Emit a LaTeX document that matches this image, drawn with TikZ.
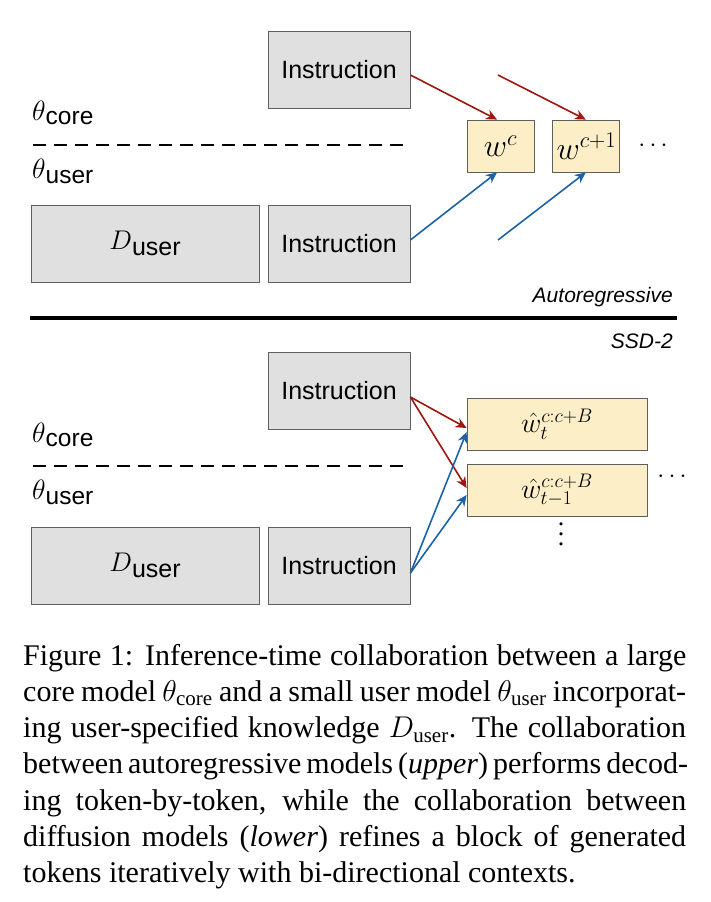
\RequirePackage{fix-cm}
\documentclass[tikz,border=0pt]{standalone}
\usepackage{fontspec}
\setmainfont{Liberation Serif}
\setsansfont{Liberation Sans}
\usetikzlibrary{positioning,arrows.meta}
\definecolor{boxgray}{RGB}{224,224,224}
\definecolor{edgegray}{RGB}{95,95,95}
\definecolor{tokyellow}{RGB}{252,239,200}
\definecolor{corered}{RGB}{158,22,14}
\definecolor{userblue}{RGB}{28,98,168}

\begin{document}
\begin{tikzpicture}[x=1pt,y=-1pt]
    \tikzstyle{block} = [rectangle, draw=edgegray, line width=0.8pt, fill=boxgray, inner sep=0pt, minimum height=77pt, font=\fontsize{25}{25}\selectfont\sffamily]
    \tikzstyle{token} = [rectangle, draw=edgegray, line width=0.8pt, fill=tokyellow, inner sep=0pt, minimum height=52pt]
    \tikzstyle{lbl} = [anchor=base west, inner sep=0pt, font=\fontsize{28}{28}\selectfont]
    \tikzstyle{tag} = [anchor=base east, inner sep=0pt, font=\fontsize{21}{21}\selectfont\sffamily\itshape]
    \tikzstyle{corearrow} = [line width=1.6pt, corered, ->, >={Stealth[length=11pt,width=10pt]}]
    \tikzstyle{userarrow} = [line width=1.6pt, userblue, ->, >={Stealth[length=11pt,width=10pt]}]
    \tikzstyle{split} = [line width=2pt, dash pattern=on 13pt off 8pt]
    \useasboundingbox (0,0) rectangle (710,902);

    % upper: autoregressive
    \node (inst1) [block, minimum width=142pt] at (339,69.5) {Instruction};
    \node (duser1) [block, minimum width=228pt] at (145,243.5) {{\fontsize{27}{27}\selectfont$D$}\raisebox{-6pt}{user}};
    \node (inst2) [block, minimum width=142pt] at (339,243.5) {Instruction};
    \node (core1) [lbl] at (32,120) {$\theta$\raisebox{-4pt}{\fontsize{24.5}{24.5}\selectfont\sffamily core}};
    \node (user1) [lbl] at (32,178) {$\theta$\raisebox{-5pt}{\fontsize{24.5}{24.5}\selectfont\sffamily user}};
    \draw [split] (33,145) -- (410,145);

    \node (wc) [token, minimum width=67pt, font=\fontsize{32}{32}\selectfont] at (500.5,146) {$w^c$};
    \node (wc1) [token, minimum width=67pt, font=\fontsize{32}{32}\selectfont, right=18pt of wc] {$w^{c+1}$};
    \node (more1) [font=\fontsize{25}{25}\selectfont] at (653,146) {$\cdots$};

    \coordinate (r2) at (498,75);
    \coordinate (b2) at (498,240);
    \draw [corearrow] (inst1.east |- r2) -- ([xshift=-3.5pt]wc.north);
    \draw [corearrow] (r2) -- ([xshift=-0.5pt]wc1.north);
    \draw [userarrow] (inst2.east |- b2) -- ([xshift=-3.5pt]wc.south);
    \draw [userarrow] (b2) -- ([xshift=-0.5pt]wc1.south);

    \node (ar) [tag] at (673,302) {Autoregressive};
    \draw [line width=4pt] (30,318) -- (677,318);
    \node (ssd) [tag] at (673,348) {SSD-2};

    % lower: diffusion
    \node (inst3) [block, minimum width=142pt] at (339,391) {Instruction};
    \node (duser2) [block, minimum width=228pt] at (145,565.5) {{\fontsize{27}{27}\selectfont$D$}\raisebox{-6pt}{user}};
    \node (inst4) [block, minimum width=142pt] at (339,565.5) {Instruction};
    \node (core2) [lbl] at (32,442) {$\theta$\raisebox{-4pt}{\fontsize{24.5}{24.5}\selectfont\sffamily core}};
    \node (user2) [lbl] at (32,499) {$\theta$\raisebox{-5pt}{\fontsize{24.5}{24.5}\selectfont\sffamily user}};
    \draw [split] (33,466) -- (410,466);

    \node (hat1) [token, minimum width=180pt, font=\fontsize{28}{28}\selectfont] at (557,424) {$\hat{w}_t^{c:c+B}$};
    \node (hat2) [token, minimum width=180pt, font=\fontsize{28}{28}\selectfont] at (557,490.5) {$\hat{w}_{t-1}^{c:c+B}$};
    \node (more2) [font=\fontsize{25}{25}\selectfont] at (672,477) {$\cdots$};
    \node (vdots) [align=center, inner sep=0pt, font=\fontsize{26}{10}\selectfont] at (561,534) {.\\.\\.};

    \draw [corearrow] ([yshift=-6pt]inst3.east) -- ([yshift=-4pt]hat1.west);
    \draw [corearrow] ([yshift=-6pt]inst3.east) -- ([yshift=2.5pt]hat2.west);
    \draw [userarrow] ([yshift=-7.5pt]inst4.east) -- ([yshift=-8pt]hat1.west);
    \draw [userarrow] ([yshift=-7.5pt]inst4.east) -- ([yshift=-4.5pt]hat2.west);

    % caption
    \node (cap) [anchor=base west, inner sep=0pt, align=left, font=\fontsize{30}{36.3}\selectfont] at (23,882.8) {%
    \makebox[663pt][s]{Figure 1: Inference-time collaboration between a large}\\
    \makebox[663pt][s]{core model $\theta_{\mathrm{core}}$ and a small user model $\theta_{\mathrm{user}}$ incorporat-}\\
    \makebox[663pt][s]{ing user-specified knowledge $D_{\mathrm{user}}$. The collaboration}\\
    \makebox[663pt][s]{between autoregressive models (\textit{upper}) performs decod-}\\
    \makebox[663pt][s]{ing token-by-token, while the collaboration between}\\
    \makebox[663pt][s]{diffusion models (\textit{lower}) refines a block of generated}\\
    tokens iteratively with bi-directional contexts.};

\end{tikzpicture}
\end{document}
